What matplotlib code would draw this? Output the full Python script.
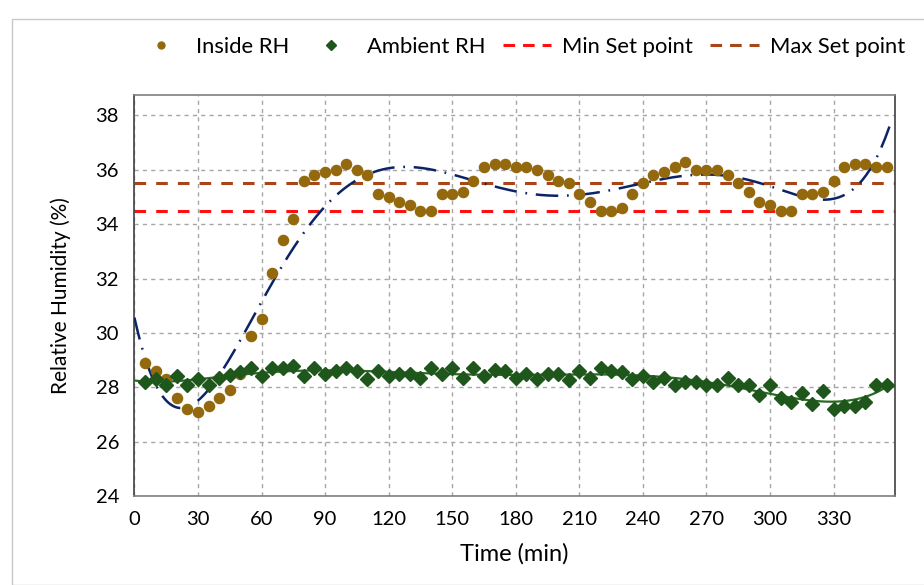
import numpy as np
import matplotlib
matplotlib.use("Agg")
import matplotlib.pyplot as plt
from matplotlib.lines import Line2D
from matplotlib.patches import Rectangle

plt.rcParams['font.family'] = ['Lato', 'DejaVu Sans']

# Sampling times (min)
time_min = [5, 10, 15, 20, 25, 30, 35, 40, 45, 50,
            55, 60, 65, 70, 75, 80, 85, 90, 95, 100,
            105, 110, 115, 120, 125, 130, 135, 140, 145, 150,
            155, 160, 165, 170, 175, 180, 185, 190, 195, 200,
            205, 210, 215, 220, 225, 230, 235, 240, 245, 250,
            255, 260, 265, 270, 275, 280, 285, 290, 295, 300,
            305, 310, 315, 320, 325, 330, 335, 340, 345, 350, 355]

# Relative humidity inside the enclosure (%)
inside_rh = [28.9, 28.6, 28.3, 27.6, 27.2, 27.1, 27.3, 27.6, 27.9, 28.5,
             29.9, 30.5, 32.2, 33.4, 34.2, 35.6, 35.8, 35.9, 36.0, 36.2,
             36.0, 35.8, 35.1, 35.0, 34.8, 34.7, 34.5, 34.5, 35.1, 35.1,
             35.2, 35.6, 36.1, 36.2, 36.2, 36.1, 36.1, 36.0, 35.8, 35.6,
             35.5, 35.1, 34.8, 34.5, 34.5, 34.6, 35.1, 35.5, 35.8, 35.9,
             36.1, 36.3, 36.0, 36.0, 36.0, 35.8, 35.5, 35.2, 34.8, 34.7,
             34.5, 34.5, 35.1, 35.1, 35.2, 35.6, 36.1, 36.2, 36.2, 36.1, 36.1]

# Ambient relative humidity (%)
ambient_rh = [28.2, 28.3, 28.1, 28.4, 28.1, 28.3, 28.1, 28.35, 28.45, 28.55,
              28.7, 28.4, 28.7, 28.7, 28.8, 28.4, 28.7, 28.5, 28.6, 28.7,
              28.6, 28.3, 28.6, 28.4, 28.5, 28.5, 28.35, 28.7, 28.5, 28.7,
              28.35, 28.7, 28.4, 28.65, 28.6, 28.35, 28.5, 28.3, 28.5, 28.5,
              28.25, 28.6, 28.35, 28.7, 28.6, 28.55, 28.3, 28.4, 28.2, 28.35,
              28.1, 28.2, 28.2, 28.1, 28.1, 28.35, 28.1, 28.1, 27.7, 28.1,
              27.6, 27.45, 27.8, 27.4, 27.85, 27.2, 27.3, 27.3, 27.45, 28.1, 28.1]

min_set_point = 34.5
max_set_point = 35.5

x_ticks = [0, 30, 60, 90, 120, 150, 180, 210, 240, 270, 300, 330]
y_ticks = [24, 26, 28, 30, 32, 34, 36, 38]

t = np.array(time_min, dtype=float)
inside = np.array(inside_rh)
ambient = np.array(ambient_rh)

# 6th-order polynomial trendlines
t_fit = np.linspace(0, 357, 400)
inside_trend = np.polynomial.Polynomial.fit(t, inside, 6)(t_fit)
ambient_trend = np.polynomial.Polynomial.fit(t, ambient, 6)(t_fit)

c_inside = '#94690E'
c_ambient = '#1E561B'
c_trend_in = '#0B2466'
c_trend_amb = '#2A6A22'
c_min = '#FF1010'
c_max = '#A8461A'

fig = plt.figure(figsize=(9.24, 5.85), dpi=100)
fig.patches.append(Rectangle((12 / 924, 0), 1, 1 - 19 / 585, transform=fig.transFigure,
                             fill=False, edgecolor='#C8C8C8', linewidth=1.0))

ax = fig.add_axes([134.4 / 924, 1 - 496 / 585, (895 - 134.4) / 924, (496 - 95) / 585])

ax.axhline(min_set_point, color=c_min, lw=2.2, ls=(0, (3.8, 3.3)), zorder=2)
ax.axhline(max_set_point, color=c_max, lw=2.2, ls=(0, (3.8, 3.3)), zorder=2)

ax.plot(t_fit, ambient_trend, color=c_trend_amb, lw=1.6, zorder=3)
ax.plot(t_fit, inside_trend, color=c_trend_in, lw=1.8,
        ls=(0, (9, 3.5, 0.7, 3.5)), zorder=3)

ax.plot(t, inside, ls='none', marker='o', ms=7.3, mfc=c_inside, mec=c_inside, zorder=4)
ax.plot(t, ambient, ls='none', marker='D', ms=7.2, mfc=c_ambient, mec=c_ambient, zorder=4)

ax.set_xlim(0, 359)
ax.set_ylim(24, 38.75)
ax.set_xticks(x_ticks)
ax.set_yticks(y_ticks)
ax.grid(True, color='#A6A6A6', ls=(0, (3, 3)), lw=1.0)
ax.set_axisbelow(True)
ax.tick_params(length=0, labelsize=14.5, pad=11, colors='#000000')
for s in ax.spines.values():
    s.set_color('#7F7F7F')
    s.set_linewidth(1.2)
ax.spines['left'].set_color('#404040')
ax.spines['right'].set_color('#404040')

ax.set_xlabel('Time (min)', fontsize=17, labelpad=11)
ax.set_ylabel('Relative Humidity (%)', fontsize=15, labelpad=18)

handles = [
    Line2D([], [], ls='none', marker='o', ms=5, mfc=c_inside, mec=c_inside),
    Line2D([], [], ls='none', marker='D', ms=5, mfc=c_ambient, mec=c_ambient),
    Line2D([], [], color=c_min, lw=2.2, ls=(0, (3.8, 2.6))),
    Line2D([], [], color=c_max, lw=2.2, ls=(0, (3.8, 2.6))),
]
labels = ['Inside RH', 'Ambient RH', 'Min Set point', 'Max Set point']
fig.legend(handles, labels, loc='center', bbox_to_anchor=(521 / 924, 1 - 47 / 585),
           ncol=4, frameon=False, fontsize=15.8, handlelength=2.2, handletextpad=0.5,
           columnspacing=0.8)

fig.savefig('out.png', dpi=100)
